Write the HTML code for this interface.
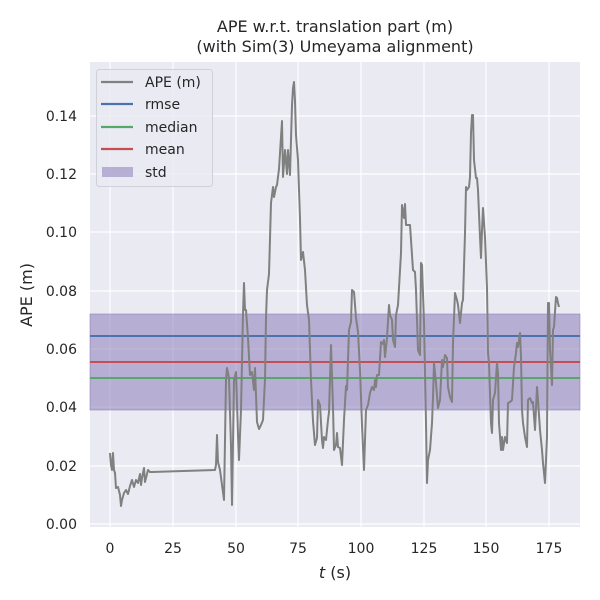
<!DOCTYPE html>
<html><head><meta charset="utf-8"><style>body{margin:0;background:#fff}svg{display:block}</style></head>
<body>
<svg width="600" height="600" xmlns="http://www.w3.org/2000/svg" font-family="'DejaVu Sans','Liberation Sans',sans-serif">
<rect x="90" y="62" width="490" height="465" fill="#eaeaf2"/>
<g stroke="#fff" stroke-width="1.2">
<line x1="110" y1="62" x2="110" y2="527"/><line x1="173" y1="62" x2="173" y2="527"/><line x1="236" y1="62" x2="236" y2="527"/><line x1="298" y1="62" x2="298" y2="527"/><line x1="361" y1="62" x2="361" y2="527"/><line x1="424" y1="62" x2="424" y2="527"/><line x1="486" y1="62" x2="486" y2="527"/><line x1="549" y1="62" x2="549" y2="527"/>
<line x1="90" y1="524" x2="580" y2="524"/><line x1="90" y1="466" x2="580" y2="466"/><line x1="90" y1="407" x2="580" y2="407"/><line x1="90" y1="349" x2="580" y2="349"/><line x1="90" y1="291" x2="580" y2="291"/><line x1="90" y1="232" x2="580" y2="232"/><line x1="90" y1="174" x2="580" y2="174"/><line x1="90" y1="116" x2="580" y2="116"/>
</g>
<rect x="90" y="314" width="490" height="96" fill="#8172b3" fill-opacity="0.5" stroke="#8172b3" stroke-opacity="0.5"/>
<line x1="90" y1="336" x2="580" y2="336" stroke="#4c72b0" stroke-width="2"/>
<line x1="90" y1="362" x2="580" y2="362" stroke="#c44e52" stroke-width="2"/>
<line x1="90" y1="378" x2="580" y2="378" stroke="#55a868" stroke-width="2"/>
<polyline fill="none" stroke="#808080" stroke-width="2" stroke-linejoin="round" points="110,453 111,465 112,470 113,453 114,470 115,473 116,488 118,487 120,495 121,506 122,500 124,493 126,490 128,494 130,486 132,480 134,487 136,480 138,483 140,474 141,485 142,478 144,468 145,482 147,474 148,470 150,472 152,472 215,470 216,465 217,435 218,462 220,470 222,485 224,500 226,380 227,368 229,378 231,446 232,505 234,380 236,372 238,435 239,460 241,410 243,314 244,283 245,310 246,310 248,338 250,375 252,372 254,390 255,368 257,422 259,429 261,425 263,420 265,379 266,318 267,290 269,274 271,203 273,187 274,197 276,187 277,185 279,169 282,121 283,177 285,150 287,174 288,150 290,175 292,105 293,88 294,82 295,101 296,135 298,160 300,219 301,260 303,252 305,270 307,305 309,320 311,380 313,421 315,445 317,438 318,400 320,405 322,440 323,448 324,437 326,440 328,420 329,412 331,345 333,407 334,450 336,445 337,433 338,447 340,448 342,465 344,420 346,386 347,390 349,330 351,322 352,290 354,292 356,318 358,332 360,370 362,425 364,470 366,410 368,405 370,393 372,387 374,390 375,380 376,387 377,375 379,375 381,342 383,344 384,340 385,357 387,338 389,305 390,315 392,320 393,340 395,347 396,315 398,305 401,253 402,205 404,218 405,204 406,225 410,225 413,270 415,272 416,290 418,350 420,355 421,263 422,265 424,323 426,423 427,483 428,460 430,450 432,423 433,397 434,363 436,383 438,408 440,400 442,360 443,367 445,355 447,358 448,387 450,397 452,402 453,343 455,293 457,300 458,305 460,323 462,303 463,300 465,233 466,187 467,190 469,187 470,177 471,133 472,115 473,115 474,160 476,178 477,178 478,190 480,237 481,258 482,230 483,208 485,237 487,288 488,353 489,363 491,423 492,433 493,400 495,393 497,363 498,373 499,423 501,450 502,437 503,450 505,437 507,443 508,403 510,402 512,400 514,367 516,353 517,343 518,347 520,333 521,357 522,410 523,423 525,437 527,447 528,400 530,398 532,403 533,402 535,430 537,387 538,400 540,430 542,450 543,463 545,483 547,437 548,303 549,303 550,350 552,385 553,330 554,327 556,297 557,298 558,303 559,307"/>
<rect x="96.5" y="69.5" width="116" height="117" rx="3" fill="#eaeaf2" fill-opacity="0.8" stroke="#d0d0d8"/>
<g stroke-width="2.2"><line x1="101" y1="82" x2="133" y2="82" stroke="#808080"/><line x1="101" y1="104" x2="133" y2="104" stroke="#4c72b0"/><line x1="101" y1="127" x2="133" y2="127" stroke="#55a868"/><line x1="101" y1="149" x2="133" y2="149" stroke="#c44e52"/></g>
<rect x="102" y="167" width="31" height="10" fill="#8172b3" fill-opacity="0.5"/>
<g font-size="14" fill="#262626"><text x="145" y="87">APE (m)</text><text x="145" y="109">rmse</text><text x="145" y="132">median</text><text x="145" y="154">mean</text><text x="145" y="177">std</text></g>
<g font-size="14" fill="#262626" text-anchor="middle">
<text x="110" y="553">0</text><text x="173" y="553">25</text><text x="236" y="553">50</text><text x="298" y="553">75</text><text x="361" y="553">100</text><text x="424" y="553">125</text><text x="486" y="553">150</text><text x="549" y="553">175</text>
</g>
<g font-size="14" fill="#262626" text-anchor="end">
<text x="77" y="529">0.00</text><text x="77" y="471">0.02</text><text x="77" y="412">0.04</text><text x="77" y="354">0.06</text><text x="77" y="296">0.08</text><text x="77" y="237">0.10</text><text x="77" y="179">0.12</text><text x="77" y="121">0.14</text>
</g>
<text x="335" y="578" font-size="16" fill="#262626" text-anchor="middle"><tspan font-style="italic">t</tspan> (s)</text>
<text transform="translate(32,295) rotate(-90)" font-size="16" fill="#262626" text-anchor="middle">APE (m)</text>
<text x="335" y="32" font-size="16" fill="#262626" text-anchor="middle">APE w.r.t. translation part (m)</text>
<text x="335" y="52" font-size="16" fill="#262626" text-anchor="middle">(with Sim(3) Umeyama alignment)</text>
</svg>
</body></html>
